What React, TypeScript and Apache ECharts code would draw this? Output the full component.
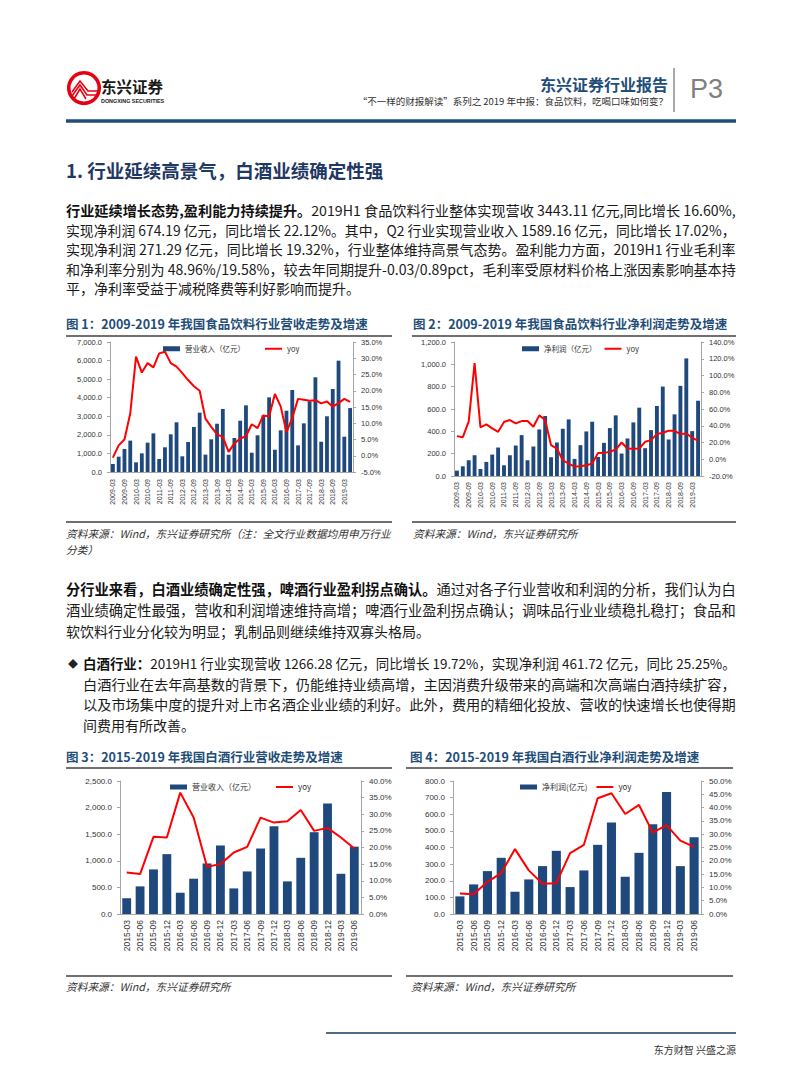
import React, { useEffect, useRef } from "react";
import * as echarts from "echarts";

// ---------------- data ----------------
const quarters42 = [
  "2009-03", "2009-06", "2009-09", "2009-12",
  "2010-03", "2010-06", "2010-09", "2010-12",
  "2011-03", "2011-06", "2011-09", "2011-12",
  "2012-03", "2012-06", "2012-09", "2012-12",
  "2013-03", "2013-06", "2013-09", "2013-12",
  "2014-03", "2014-06", "2014-09", "2014-12",
  "2015-03", "2015-06", "2015-09", "2015-12",
  "2016-03", "2016-06", "2016-09", "2016-12",
  "2017-03", "2017-06", "2017-09", "2017-12",
  "2018-03", "2018-06", "2018-09", "2018-12",
  "2019-03", "2019-06",
];
const quarters18 = [
  "2015-03", "2015-06", "2015-09", "2015-12",
  "2016-03", "2016-06", "2016-09", "2016-12",
  "2017-03", "2017-06", "2017-09", "2017-12",
  "2018-03", "2018-06", "2018-09", "2018-12",
  "2019-03", "2019-06",
];

// Fig 1: food & beverage revenue (亿元) and yoy (%)
const fbRevenue = [
  430, 825, 1240, 1690, 520, 1005, 1580, 2080, 700, 1330, 2030, 2675,
  845, 1615, 2425, 3195, 935, 1760, 2600, 3395, 930, 1830, 2760, 3590,
  1040, 1975, 3050, 4020, 1200, 2245, 3300, 4415, 1435, 2620, 3805, 5100,
  1630, 3000, 4470, 5995, 1900, 3443.11,
];
const fbRevenueYoy = [
  -0.6, 3.2, 5.0, 13.0, 30.5, 25.6, 28.5, 27.2, 31.5, 32.0, 28.5, 27.4,
  25.4, 23.3, 21.4, 20.0, 11.4, 8.9, 6.6, 5.8, 1.2, 3.8, 5.3, 6.0,
  9.7, 8.5, 12.4, 12.1, 19.0, 15.2, 7.3, 11.6, 17.5, 17.2, 16.9, 17.1,
  16.1, 16.7, 15.1, 16.2, 17.5, 16.6,
];
// Fig 2: food & beverage net profit
const fbProfit = [
  48, 87, 141, 186, 63, 126, 192, 255, 96, 186, 273, 366,
  141, 264, 417, 537, 168, 300, 423, 507, 153, 276, 399, 486,
  171, 297, 429, 543, 201, 336, 480, 612, 249, 411, 627, 801,
  327, 552, 807, 1053, 402, 674.19,
];
const fbProfitYoy = [
  27.6, 26.4, 44.8, 114.8, 38.0, 41.6, 36.8, 32.8, 44.4, 46.8, 42.8, 45.6,
  45.6, 38.8, 52.4, 46.8, 16.8, 12.8, -1.2, -5.2, -8.8, -8.4, -7.2, -5.2,
  7.6, 7.6, 8.8, 11.6, 20.0, 12.8, 12.4, 12.8, 20.8, 22.8, 30.0, 31.6,
  34.0, 34.0, 30.0, 30.8, 25.6, 22.12,
];
// Fig 3: baijiu revenue
const bjRevenue = [
  294, 519, 838, 1125, 400, 663, 950, 1288, 481, 800, 1231, 1650,
  613, 1056, 1538, 2075, 756, 1266.28,
];
const bjRevenueYoy = [
  12.5, 12.0, 23.2, 23.0, 36.5, 29.0, 14.2, 15.0, 18.5, 20.2, 29.0, 27.5,
  27.9, 31.3, 25.0, 25.9, 23.0, 19.72,
];
// Fig 4: baijiu net profit
const bjProfit = [
  106, 178, 258, 338, 134, 208, 288, 380, 162, 262, 416, 550,
  224, 368, 540, 734, 288, 461.72,
];
const bjProfitYoy = [
  7.75, 7.4, 12.1, 15.4, 24.4, 16.4, 11.4, 11.6, 22.9, 26.0, 43.5, 45.4,
  37.6, 41.0, 30.6, 33.4, 27.6, 25.25,
];

const revName = "营业收入（亿元）";
const profName = "净利润（亿元）";
const profName4 = "净利润(亿元)";

// ---------------- styles ----------------
const CJK_NAME = "Noto Sans CJK SC";
const CJK = '"Noto Sans CJK SC", "Noto Sans", sans-serif';
const LAT = '"Liberation Sans", Arial, sans-serif';
const BAR = "#1f497d";
const RED = "#ff0000";
const AXIS = "#a6a6a6";
const NAVY = "#1f4e79";
const BASE_FS = 14;

const fmtNum = (v: number) =>
  v.toLocaleString("en-US", { minimumFractionDigits: 1, maximumFractionDigits: 1 });
const fmtPct = (v: number) => v.toFixed(1) + "%";

function T(x: number, y: number, text: string, fontSize: number, extra: any = {}) {
  return {
    type: "text",
    x,
    y,
    silent: true,
    style: {
      text,
      fontSize,
      fontFamily: CJK,
      fill: "#222",
      align: "left",
      verticalAlign: "middle",
      ...extra,
    },
  };
}
function L(x1: number, y1: number, x2: number, y2: number, stroke: string, lineWidth: number) {
  return { type: "line", silent: true, shape: { x1, y1, x2, y2 }, style: { stroke, lineWidth } };
}

let measureCtx: CanvasRenderingContext2D | null = null;
function measure(text: string, fs: number, bold: boolean) {
  if (!measureCtx) measureCtx = document.createElement("canvas").getContext("2d");
  if (!measureCtx) return text.length * fs;
  measureCtx.font = `${bold ? "bold " : ""}${fs}px "${CJK_NAME}"`;
  return measureCtx.measureText(text).width;
}

// a justified-looking body line: scale the font so the line spans the column width
function bodyLine(x: number, y: number, boldPart: string, normalPart: string, target: number | null) {
  let fs = BASE_FS;
  if (target) {
    const w = measure(boldPart, BASE_FS, true) + measure(normalPart, BASE_FS, false);
    fs = Math.max(12.6, Math.min(15.4, (BASE_FS * target) / w));
  }
  const text = boldPart ? `{b|${boldPart}}${normalPart}` : normalPart;
  return T(x, y, text, fs, {
    fill: "#1a1a1a",
    rich: { b: { fontWeight: "bold", fontSize: fs, fontFamily: CJK, fill: "#111" } },
  });
}

export default function App() {
  const ref = useRef<HTMLDivElement>(null);
  useEffect(() => {
    document.body.style.margin = "0";
    if (!ref.current) return;
    const chart = echarts.init(ref.current, null, { renderer: "svg" });

    const grids = [
      { left: 110, top: 342, width: 243, height: 130 },
      { left: 454, top: 342, width: 247, height: 134 },
      { left: 120, top: 781, width: 241, height: 133 },
      { left: 453, top: 781, width: 248, height: 133 },
    ].map((g) => ({ ...g, containLabel: false, outerBoundsMode: "none" }));

    const xAxisBase = (gi: number, data: string[], fs: number, interval: number, margin: number) => ({
      type: "category",
      gridIndex: gi,
      data,
      axisLine: { show: true, lineStyle: { color: AXIS, width: 1 } },
      axisTick: { show: false },
      axisLabel: { rotate: 90, interval, fontSize: fs, color: "#333", fontFamily: LAT, margin },
    });
    const yAxisBase = (
      gi: number,
      pos: string,
      min: number,
      max: number,
      interval: number,
      fmt: (v: number) => string,
      fs: number
    ) => ({
      type: "value",
      gridIndex: gi,
      position: pos,
      min,
      max,
      interval,
      axisLine: { show: true, lineStyle: { color: AXIS, width: 1 } },
      axisTick: { show: true, length: 3, lineStyle: { color: AXIS } },
      splitLine: { show: false },
      axisLabel: { fontSize: fs, color: "#333", fontFamily: LAT, margin: 8, formatter: fmt },
    });

    const xAxis = [
      xAxisBase(0, quarters42, 7, 1, 7),
      xAxisBase(1, quarters42, 7, 1, 6),
      xAxisBase(2, quarters18, 8.5, 0, 6),
      xAxisBase(3, quarters18, 8.5, 0, 6),
    ];
    const yAxis = [
      yAxisBase(0, "left", 0, 7000, 1000, fmtNum, 7.5),
      yAxisBase(0, "right", -5, 35, 5, fmtPct, 7.5),
      yAxisBase(1, "left", 0, 1200, 200, fmtNum, 7.5),
      yAxisBase(1, "right", -20, 140, 20, fmtPct, 7.5),
      yAxisBase(2, "left", 0, 2500, 500, fmtNum, 8),
      yAxisBase(2, "right", 0, 40, 5, fmtPct, 8),
      yAxisBase(3, "left", 0, 800, 100, fmtNum, 8),
      yAxisBase(3, "right", 0, 50, 5, fmtPct, 8),
    ];

    const barS = (name: string, gi: number, data: number[]) => ({
      type: "bar",
      name,
      xAxisIndex: gi,
      yAxisIndex: gi * 2,
      data,
      barWidth: "66%",
      itemStyle: { color: BAR },
    });
    const lineS = (gi: number, data: number[]) => ({
      type: "line",
      name: "yoy",
      xAxisIndex: gi,
      yAxisIndex: gi * 2 + 1,
      data,
      symbol: "none",
      showSymbol: false,
      lineStyle: { color: RED, width: 2 },
      itemStyle: { color: RED },
      z: 3,
    });

    const series = [
      barS(revName, 0, fbRevenue),
      lineS(0, fbRevenueYoy),
      barS(profName, 1, fbProfit),
      lineS(1, fbProfitYoy),
      barS(revName, 2, bjRevenue),
      lineS(2, bjRevenueYoy),
      barS(profName4, 3, bjProfit),
      lineS(3, bjProfitYoy),
    ];

    const lineIcon = "path://M0,0H34V4H0Z";
    const legendBase = (name: string, left: number, top: number, gap: number, fs: number) => ({
      data: [
        { name, icon: "rect" },
        { name: "yoy", icon: lineIcon, itemStyle: { color: RED } },
      ],
      left,
      top,
      padding: 0,
      itemWidth: 17,
      itemHeight: 5,
      itemGap: gap,
      selectedMode: false,
      textStyle: { fontSize: fs, color: "#333", fontFamily: CJK, padding: [0, 0, 0, 0] },
    });
    const legend = [
      legendBase(revName, 163, 345, 20, 7.5),
      legendBase(profName, 522, 345, 8, 7.5),
      legendBase(revName, 170, 783, 20, 8),
      legendBase(profName4, 520, 783, 9, 8),
    ];

    const W1 = 670; // 66 -> 736
    const W2 = 653; // 83 -> 736
    const graphic: any[] = [
      // logo
      { type: "circle", silent: true, shape: { cx: 84, cy: 88, r: 17 }, style: { fill: "#e60012" } },
      { type: "circle", silent: true, shape: { cx: 84, cy: 88, r: 13.5 }, style: { fill: "#fff" } },
      { type: "polyline", silent: true, shape: { points: [[72, 92], [80, 81], [88, 91], [99, 91]] }, style: { stroke: "#e60012", lineWidth: 1.6, fill: "none" } },
      { type: "polyline", silent: true, shape: { points: [[72, 96], [80, 85], [87, 95], [99, 95]] }, style: { stroke: "#e60012", lineWidth: 1.6, fill: "none" } },
      { type: "polyline", silent: true, shape: { points: [[74, 99], [80, 89], [86, 99]] }, style: { stroke: "#e60012", lineWidth: 1.6, fill: "none" } },
      T(101, 86, "东兴证券", 15.5, { fontWeight: "bold", fill: "#1a1a1a" }),
      T(101, 101, "DONGXING SECURITIES", 5.4, { fontWeight: "bold", fill: "#1a1a1a", fontFamily: LAT }),
      // header right
      T(668, 84, "东兴证券行业报告", 16, { align: "right", fontWeight: "bold", fill: NAVY }),
      T(668, 101, "“不一样的财报解读”系列之 2019 年中报：食品饮料，吃喝口味如何变？", 9.5, { align: "right", fill: "#333" }),
      L(674, 68, 674, 112, "#8c8c8c", 1.5),
      T(690, 89, "P3", 27, { fontFamily: '"Liberation Sans Narrow", "Liberation Sans", sans-serif', fill: "#7f7f7f" }),
      L(66, 121, 736, 121, NAVY, 3.5),
      // heading
      T(66, 170, "1. 行业延续高景气，白酒业绩确定性强", 18.5, { fontWeight: "bold", fill: "#1f3864" }),
      // paragraph 1
      bodyLine(66, 210, "行业延续增长态势,盈利能力持续提升。", "2019H1 食品饮料行业整体实现营收 3443.11 亿元,同比增长 16.60%,", W1),
      bodyLine(66, 229.5, "", "实现净利润 674.19 亿元，同比增长 22.12%。其中，Q2 行业实现营业收入 1589.16 亿元，同比增长 17.02%，", W1),
      bodyLine(66, 249, "", "实现净利润 271.29 亿元，同比增长 19.32%，行业整体维持高景气态势。盈利能力方面，2019H1 行业毛利率", W1),
      bodyLine(66, 268.5, "", "和净利率分别为 48.96%/19.58%，较去年同期提升-0.03/0.89pct，毛利率受原材料价格上涨因素影响基本持", W1),
      bodyLine(66, 288, "", "平，净利率受益于减税降费等利好影响而提升。", null),
      // figure titles 1/2
      T(66, 323, "图 1：2009-2019 年我国食品饮料行业营收走势及增速", 12.5, { fontWeight: "bold", fill: NAVY }),
      T(413, 323, "图 2：2009-2019 年我国食品饮料行业净利润走势及增速", 12.5, { fontWeight: "bold", fill: NAVY }),
      L(66, 336, 392, 336, "#404040", 1.5),
      L(412, 336, 736, 336, "#404040", 1.5),
      L(66, 522, 392, 522, "#404040", 1.5),
      L(412, 522, 736, 522, "#404040", 1.5),
      T(66, 533, "资料来源：Wind，东兴证券研究所（注：全文行业数据均用申万行业", 10.7, { fontStyle: "italic", fill: "#333" }),
      T(66, 549, "分类）", 10.7, { fontStyle: "italic", fill: "#333" }),
      T(413, 533, "资料来源：Wind，东兴证券研究所", 10.7, { fontStyle: "italic", fill: "#333" }),
      // paragraph 2
      bodyLine(66, 588, "分行业来看，白酒业绩确定性强，啤酒行业盈利拐点确认。", "通过对各子行业营收和利润的分析，我们认为白", W1),
      bodyLine(66, 609.5, "", "酒业绩确定性最强，营收和利润增速维持高增；啤酒行业盈利拐点确认；调味品行业业绩稳扎稳打；食品和", W1),
      bodyLine(66, 631, "", "软饮料行业分化较为明显；乳制品则继续维持双寡头格局。", null),
      // bullet
      T(68, 663, "◆", 10, { fill: "#222" }),
      bodyLine(83, 663, "白酒行业：", "2019H1 行业实现营收 1266.28 亿元，同比增长 19.72%，实现净利润 461.72 亿元，同比 25.25%。", W2),
      bodyLine(83, 683.5, "", "白酒行业在去年高基数的背景下，仍能维持业绩高增，主因消费升级带来的高端和次高端白酒持续扩容，", W2),
      bodyLine(83, 704, "", "以及市场集中度的提升对上市名酒企业业绩的利好。此外，费用的精细化投放、营收的快速增长也使得期", W2),
      bodyLine(83, 725, "", "间费用有所改善。", null),
      // figure titles 3/4
      T(66, 756, "图 3：2015-2019 年我国白酒行业营收走势及增速", 12.5, { fontWeight: "bold", fill: NAVY }),
      T(410, 756, "图 4：2015-2019 年我国白酒行业净利润走势及增速", 12.5, { fontWeight: "bold", fill: NAVY }),
      L(66, 768, 392, 768, "#404040", 1.5),
      L(406, 768, 733, 768, "#404040", 1.5),
      L(66, 976, 392, 976, "#404040", 1.5),
      L(406, 976, 733, 976, "#404040", 1.5),
      T(66, 986, "资料来源：Wind，东兴证券研究所", 10.7, { fontStyle: "italic", fill: "#333" }),
      T(411, 986, "资料来源：Wind，东兴证券研究所", 10.7, { fontStyle: "italic", fill: "#333" }),
      // footer
      L(326, 1033, 736, 1033, "#4f6b8a", 2),
      T(736, 1049, "东方财智 兴盛之源", 10, { align: "right", fill: "#333" }),
    ];

    chart.setOption({
      animation: false,
      backgroundColor: "#ffffff",
      grid: grids,
      xAxis,
      yAxis,
      legend,
      series,
      graphic,
    });
    return () => chart.dispose();
  }, []);
  return <div ref={ref} style={{ width: 802, height: 1086 }} />;
}
